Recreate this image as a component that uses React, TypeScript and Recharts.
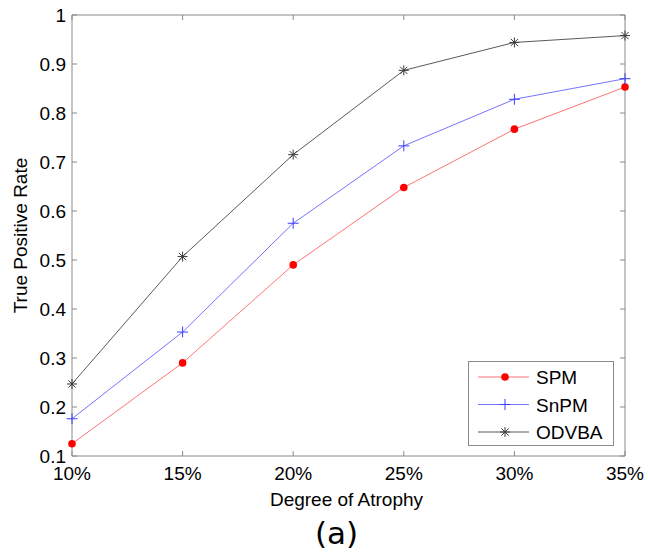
import React from 'react';
import { LineChart, Line, XAxis, YAxis, ReferenceLine, Legend } from 'recharts';

const categories = ['10%', '15%', '20%', '25%', '30%', '35%'];
const spm = [0.125, 0.29, 0.49, 0.648, 0.767, 0.853];
const snpm = [0.176, 0.353, 0.575, 0.733, 0.828, 0.87];
const odvba = [0.247, 0.507, 0.715, 0.887, 0.944, 0.958];
const yTicks = [0.1, 0.2, 0.3, 0.4, 0.5, 0.6, 0.7, 0.8, 0.9, 1];

const data = categories.map((c, i) => ({ x: c, SPM: spm[i], SnPM: snpm[i], ODVBA: odvba[i] }));

const W = 648;
const H = 557;
const M = { top: 15, right: 23, left: 0, bottom: 0 };
const Y_W = 72;
const X_H = 101;
const PLOT_TOP = M.top;
const PLOT_BOTTOM = H - X_H;
const PLOT_LEFT = Y_W;
const PLOT_RIGHT = W - M.right;

const FONT = '"Liberation Sans", Arial, sans-serif';
const FRAME = '#8a8a8a';
const TICK_IN = 5;

const COLORS = {
  SPM: { line: '#ff7474', mark: '#ff0000' },
  SnPM: { line: '#7474ff', mark: '#3c3cff' },
  ODVBA: { line: '#5a5a5a', mark: '#3a3a3a' },
};

const Dot = (p: any) => {
  const { cx, cy } = p;
  if (cx == null || cy == null) return null;
  return <circle cx={cx} cy={cy} r={3.8} fill={COLORS.SPM.mark} />;
};

const Plus = (p: any) => {
  const { cx, cy } = p;
  if (cx == null || cy == null) return null;
  const s = 5.5;
  return (
    <g stroke={COLORS.SnPM.mark} strokeWidth={1}>
      <line x1={cx - s} y1={cy} x2={cx + s} y2={cy} />
      <line x1={cx} y1={cy - s} x2={cx} y2={cy + s} />
    </g>
  );
};

const Star = (p: any) => {
  const { cx, cy } = p;
  if (cx == null || cy == null) return null;
  const s = 5;
  const d = s * 0.72;
  return (
    <g stroke={COLORS.ODVBA.mark} strokeWidth={1}>
      <line x1={cx - s} y1={cy} x2={cx + s} y2={cy} />
      <line x1={cx} y1={cy - s} x2={cx} y2={cy + s} />
      <line x1={cx - d} y1={cy - d} x2={cx + d} y2={cy + d} />
      <line x1={cx - d} y1={cy + d} x2={cx + d} y2={cy - d} />
    </g>
  );
};

const XTick = (p: any) => {
  const { x, payload } = p;
  return (
    <g>
      <line x1={x} y1={PLOT_BOTTOM} x2={x} y2={PLOT_BOTTOM - TICK_IN} stroke={FRAME} />
      <line x1={x} y1={PLOT_TOP} x2={x} y2={PLOT_TOP + TICK_IN} stroke={FRAME} />
      <text x={x} y={PLOT_BOTTOM + 24} textAnchor="middle" fontSize={19} fontFamily={FONT} fill="#000">
        {payload.value}
      </text>
    </g>
  );
};

const YTick = (p: any) => {
  const { y, payload } = p;
  const v = Number(payload.value);
  const label = v === 1 ? '1' : v.toFixed(1);
  return (
    <g>
      <line x1={PLOT_LEFT} y1={y} x2={PLOT_LEFT + TICK_IN} y2={y} stroke={FRAME} />
      <line x1={PLOT_RIGHT} y1={y} x2={PLOT_RIGHT - TICK_IN} y2={y} stroke={FRAME} />
      <text x={PLOT_LEFT - 6} y={y + 7} textAnchor="end" fontSize={19} fontFamily={FONT} fill="#000">
        {label}
      </text>
    </g>
  );
};

const XLabel = (p: any) => {
  const vb = p.viewBox || {};
  const cx = vb.x + vb.width / 2;
  return (
    <g>
      <text x={cx - 2} y={PLOT_BOTTOM + 50} textAnchor="middle" fontSize={19} fontFamily={FONT} fill="#000">
        Degree of Atrophy
      </text>
      <text x={cx - 12} y={PLOT_BOTTOM + 88} textAnchor="middle" fontSize={31} fontFamily='"DejaVu Sans", sans-serif' fill="#000">
        (a)
      </text>
    </g>
  );
};

const YLabel = (p: any) => {
  const vb = p.viewBox || {};
  const cy = vb.y + vb.height / 2;
  const x = 27;
  return (
    <text x={x} y={cy} transform={`rotate(-90, ${x}, ${cy})`} textAnchor="middle" fontSize={19} fontFamily={FONT} fill="#000">
      True Positive Rate
    </text>
  );
};

const legendItems = [
  { name: 'SPM', marker: 'dot' },
  { name: 'SnPM', marker: 'plus' },
  { name: 'ODVBA', marker: 'star' },
];

const LegendBox = () => (
  <div style={{ width: 146, height: 85, border: `1px solid ${FRAME}`, background: '#fff', boxSizing: 'border-box' }}>
    <svg width={144} height={83} style={{ display: 'block' }}>
      {legendItems.map((it, i) => {
        const cy = 15 + i * 27.5;
        const c = (COLORS as any)[it.name];
        return (
          <g key={it.name}>
            <line x1={9} y1={cy} x2={60} y2={cy} stroke={c.line} strokeWidth={1} />
            {it.marker === 'dot' && <Dot cx={36} cy={cy} />}
            {it.marker === 'plus' && <Plus cx={36} cy={cy} />}
            {it.marker === 'star' && <Star cx={36} cy={cy} />}
            <text x={67} y={cy + 7} fontSize={19} fontFamily={FONT} fill="#000">
              {it.name}
            </text>
          </g>
        );
      })}
    </svg>
  </div>
);

export default function App() {
  return (
    <div style={{ position: 'absolute', left: 0, top: 0, width: W, height: H, background: '#fff' }}>
      <LineChart width={W} height={H} data={data} margin={M}>
        <XAxis
          dataKey="x"
          height={X_H}
          stroke={FRAME}
          tickLine={false}
          tick={XTick}
          interval={0}
          padding={{ left: 0, right: 0 }}
          label={XLabel}
        />
        <YAxis
          domain={[0.1, 1]}
          ticks={yTicks}
          width={Y_W}
          stroke={FRAME}
          tickLine={false}
          tick={YTick}
          allowDataOverflow
          label={YLabel}
        />
        <ReferenceLine y={1} stroke={FRAME} />
        <ReferenceLine x="35%" stroke={FRAME} />
        <Line dataKey="SPM" stroke={COLORS.SPM.line} strokeWidth={1} dot={Dot} activeDot={false} isAnimationActive={false} />
        <Line dataKey="SnPM" stroke={COLORS.SnPM.line} strokeWidth={1} dot={Plus} activeDot={false} isAnimationActive={false} />
        <Line dataKey="ODVBA" stroke={COLORS.ODVBA.line} strokeWidth={1} dot={Star} activeDot={false} isAnimationActive={false} />
        <Legend
          layout="vertical"
          align="center"
          verticalAlign="middle"
          content={LegendBox}
          wrapperStyle={{ left: 468, top: 361, width: 146, height: 85 }}
        />
      </LineChart>
    </div>
  );
}
